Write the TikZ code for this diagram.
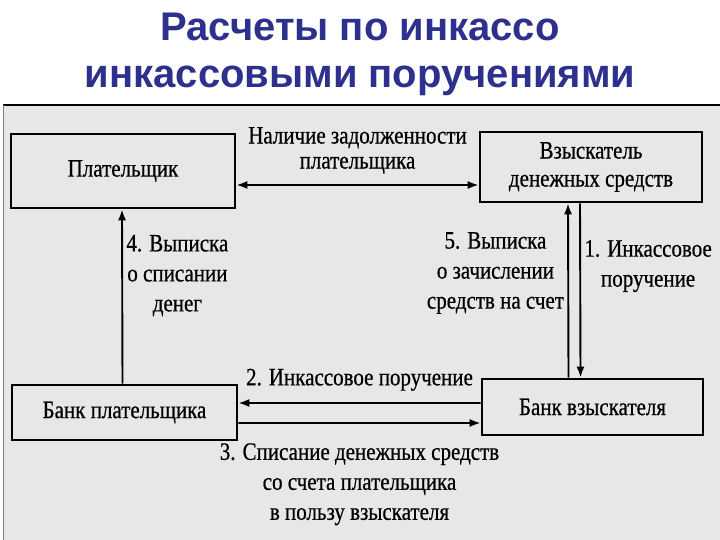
\documentclass[tikz,border=0pt]{standalone}
\usepackage{fontspec}
\setmainfont{Liberation Serif}
\newfontfamily\titlefont{Liberation Sans}
\newfontfamily\scanfont[FakeStretch=0.84, FakeBold=0.6]{Liberation Serif}
\usetikzlibrary{arrows.meta, positioning}
\definecolor{titleblue}{RGB}{45,48,140}
\definecolor{panelgray}{RGB}{231,231,231}

\begin{document}
\begin{tikzpicture}[
    x=1bp, y=-1bp,
    >={Latex[length=11bp, width=8bp]},
    party/.style={rectangle, draw, line width=2.6bp, fill=panelgray, align=center, font=\scanfont\fontsize{25bp}{28bp}\selectfont},
    arrow/.style={->, line width=1.9bp},
    lbl/.style={align=center, font=\scanfont\fontsize{25bp}{30bp}\selectfont},
    heading/.style={font=\titlefont\bfseries\fontsize{40bp}{47bp}\selectfont, text=titleblue, align=center}
]
\useasboundingbox (0,0) rectangle (720,540);
% panel behind the scheme
\fill[panelgray] (3,105) rectangle (720,540);
\draw[line width=1.5bp] (3,105) -- (720,105);
\draw[gray, line width=1bp] (3,105) -- (3,540);

\node[heading] (head) at (360,54) {Расчеты по инкассо\\инкассовыми поручениями};

\node[party, minimum width=224bp, minimum height=74bp] (payer) at (123,171) {Плательщик};
\node[party, minimum width=222bp, minimum height=70bp] (collector) at (591,167) {Взыскатель\\денежных средств};
\node[party, minimum width=225bp, minimum height=55bp] (payerbank) at (124.5,412.5) {Банк плательщика};
\node[party, minimum width=221bp, minimum height=56bp] (collbank) at (592.5,407) {Банк взыскателя};

\draw[arrow, <->] ([yshift=-14bp]payer.east) -- node[lbl, above=7bp, font=\scanfont\fontsize{25bp}{25bp}\selectfont]{Наличие задолженности\\плательщика} ([yshift=-18bp]collector.west);
\draw[arrow] ([xshift=-11bp]collector.south) -- node[lbl, right, pos=0.36]{1. Инкассовое\\поручение} ([xshift=-12bp]collbank.north);
\draw[arrow] ([yshift=4bp]collbank.west) -- node[lbl, above=8bp]{2. Инкассовое поручение} ([yshift=9.5bp]payerbank.east);
\draw[arrow] ([yshift=-10.5bp]payerbank.east) -- node[lbl, below=16bp]{3. Списание денежных средств\\со счета плательщика\\в пользу взыскателя} ([yshift=-16bp]collbank.west);
\draw[arrow] ([xshift=-2bp]payerbank.north) -- node[lbl, right, pos=0.62]{4. Выписка\\о списании\\денег} ([xshift=-1bp]payer.south);
\draw[arrow] ([xshift=-24bp]collbank.north) -- node[lbl, left, pos=0.6]{5. Выписка\\о зачислении\\средств на счет} ([xshift=-23bp]collector.south);
\end{tikzpicture}
\end{document}
